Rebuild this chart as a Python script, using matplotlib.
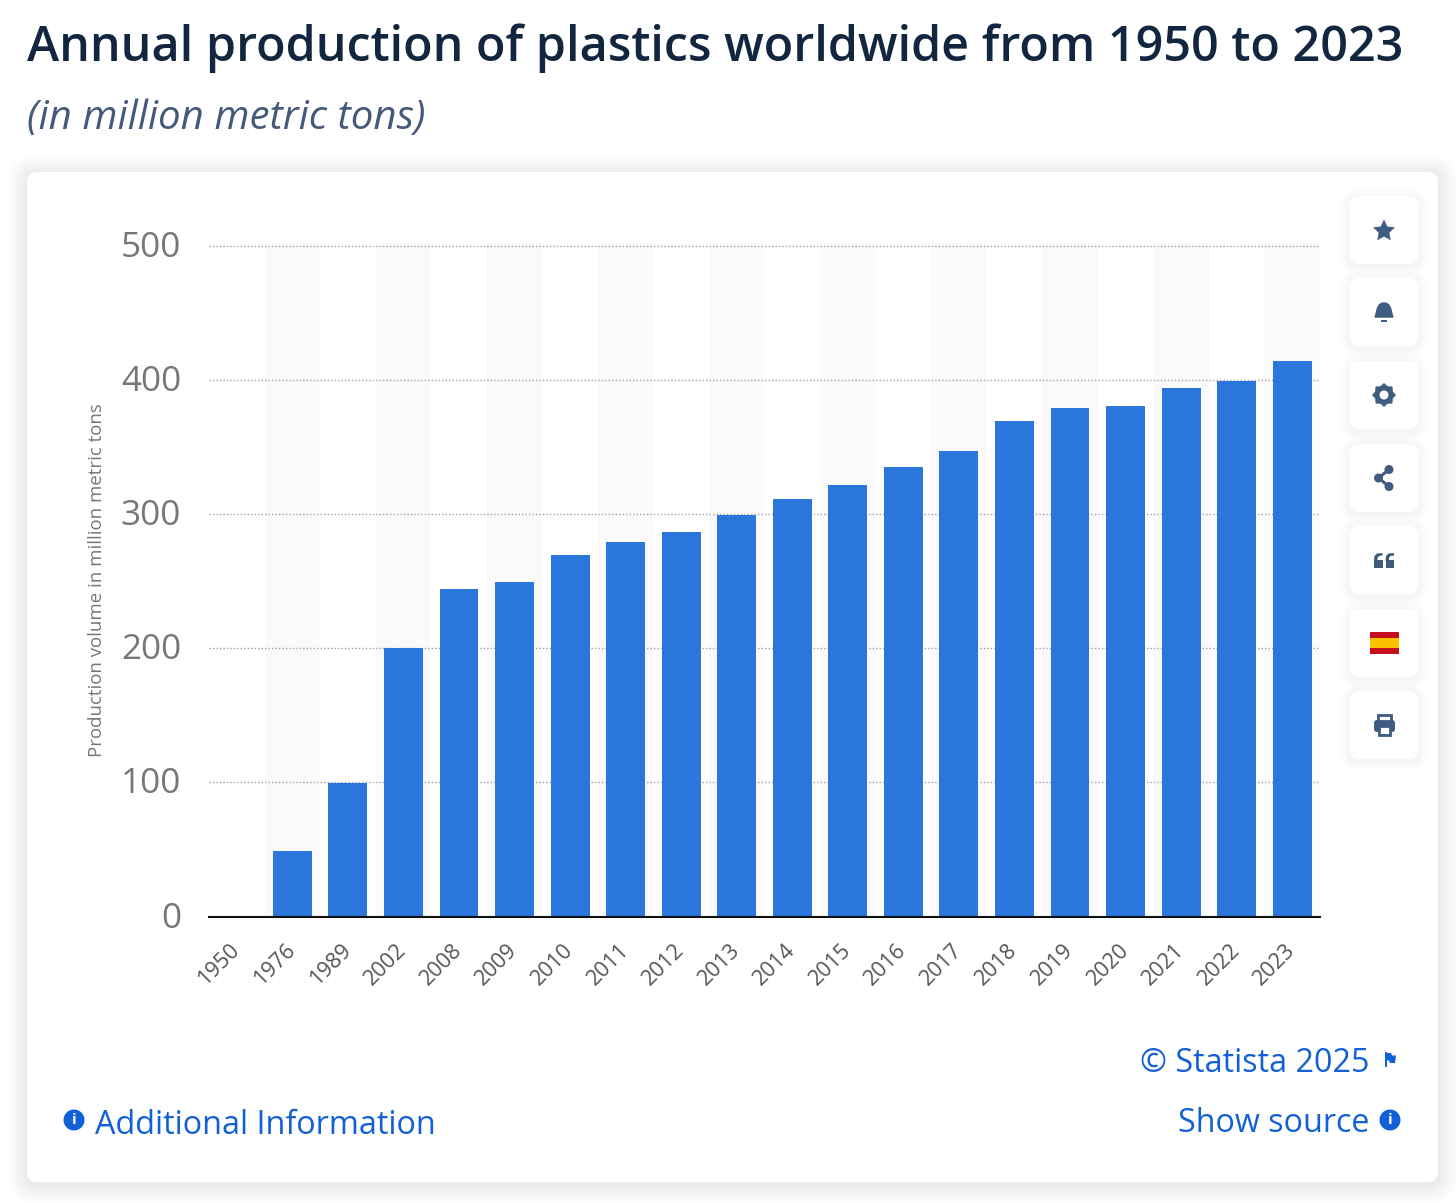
import math

import matplotlib
matplotlib.use("Agg")
import matplotlib.pyplot as plt
from matplotlib.patches import Circle, FancyBboxPatch, PathPatch, Polygon, Rectangle
from matplotlib.path import Path
from matplotlib.transforms import ScaledTranslation

years = ["1950", "1976", "1989", "2002", "2008", "2009", "2010", "2011", "2012", "2013",
         "2014", "2015", "2016", "2017", "2018", "2019", "2020", "2021", "2022", "2023"]
production = [0, 48.8, 99.5, 200, 244, 249.3, 269.5, 279, 286.6, 299,
              311, 321.7, 335, 347, 369.7, 379, 380.5, 394, 399.5, 414]
y_ticks = [0, 100, 200, 300, 400, 500]

W, H = 1456, 1203
FONT = "Open Sans"
BLUE = "#2a76dc"
LINK = "#1160d6"
ICON = "#3f5b80"

plt.rcParams["font.family"] = [FONT, "DejaVu Sans"]

fig = plt.figure(figsize=(W / 100, H / 100), dpi=100, facecolor="white")

# overlay in pixel coordinates for the card, buttons and text
bg = fig.add_axes([0, 0, 1, 1], zorder=0)
bg.set_xlim(0, W)
bg.set_ylim(H, 0)
bg.axis("off")


def soft_box(x, y, w, h, r, spread=10, alpha=0.012):
    for i in range(spread, 0, -1):
        bg.add_patch(FancyBboxPatch((x - i, y - i + 2), w + 2 * i, h + 2 * i,
                                    boxstyle=f"round,pad=0,rounding_size={r + i}",
                                    fc="#3a4a6a", ec="none", alpha=alpha))
    bg.add_patch(FancyBboxPatch((x, y), w, h, boxstyle=f"round,pad=0,rounding_size={r}",
                                fc="white", ec="none"))


soft_box(27, 172, 1411, 1010, 10, spread=20, alpha=0.004)

bg.text(27, 48, "Annual production of plastics worldwide from 1950 to 2023", fontsize=34.95,
        fontweight=600, color="#12263f", va="center", ha="left")
bg.text(27, 119, "(in million metric tons)", fontsize=29.0, style="italic",
        color="#45597a", va="center", ha="left")

# chart, the 0-400 gridlines give 1.3415 px per unit
ax = fig.add_axes([209 / W, 1 - 916.5 / H, 1111 / W, (916.5 - 243.3) / H], zorder=1)
ax.patch.set_alpha(0)
positions = list(range(len(years)))
for pos in positions[1::2]:
    ax.axvspan(pos - 0.5, pos + 0.5, color="#fafafa", lw=0, zorder=0)
ax.bar(positions, production, width=0.7, color=BLUE, zorder=3)
ax.set_xlim(-0.5, len(years) - 0.5)
ax.set_ylim(0, 501.8)
ax.set_yticks(y_ticks)
ax.set_xticks(positions)
ax.set_xticklabels(years, rotation=45, ha="right", va="top", rotation_mode="anchor",
                   fontsize=15.6, color="#555555")
ax.tick_params(axis="x", length=0, pad=16.5)
ax.tick_params(axis="y", length=0, pad=20, labelsize=25.3, labelcolor="#777777")
ax.grid(axis="y", color="#a0a0a0", lw=1, ls=(0, (1, 1.5)), zorder=1)
for name in ["top", "right", "left"]:
    ax.spines[name].set_visible(False)
ax.spines["bottom"].set_color("#111111")
ax.spines["bottom"].set_linewidth(1.5)
ax.spines["bottom"].set_zorder(5)
for label in ax.get_yticklabels():
    label.set_verticalalignment("center")
    label.set_transform(label.get_transform() + ScaledTranslation(0, -2 / 100, fig.dpi_scale_trans))
for label in ax.get_xticklabels():
    label.set_transform(label.get_transform() + ScaledTranslation(-7.5 / 100, 0, fig.dpi_scale_trans))

bg.text(97, 580, "Production volume in million metric tons", rotation=90, fontsize=13.4,
        color="#777777", ha="center", va="center")

# side buttons
button_tops = [196, 278, 361, 444, 526, 609, 691]
for top in button_tops:
    soft_box(1350, top, 68, 68, 9, spread=10, alpha=0.005)
cx = 1384

# star
star = []
for k in range(10):
    radius = 11.5 if k % 2 == 0 else 5.6
    angle = -math.pi / 2 + k * math.pi / 5
    star.append((cx + radius * math.cos(angle), 231 + radius * math.sin(angle)))
bg.add_patch(Polygon(star, fc=ICON, ec="none", zorder=5))

# bell
bell = Path([(cx - 9, 317), (cx - 7, 314), (cx - 8, 303), (cx, 303), (cx + 8, 303), (cx + 7, 314),
             (cx + 9, 317), (cx - 9, 317)],
            [Path.MOVETO, Path.CURVE4, Path.CURVE4, Path.CURVE4, Path.CURVE4, Path.CURVE4,
             Path.CURVE4, Path.CLOSEPOLY])
bg.add_patch(PathPatch(bell, fc=ICON, ec=ICON, lw=1, zorder=5))
bg.add_patch(Rectangle((cx - 3, 320), 6, 1.8, fc=ICON, ec="none", zorder=5))

# gear
gear = []
for k in range(16):
    radius = 11.5 if k % 2 == 0 else 9
    angle = k * math.pi / 8
    gear.append((cx + radius * math.cos(angle), 395 + radius * math.sin(angle)))
bg.add_patch(Polygon(gear, fc=ICON, ec=ICON, lw=0.5, zorder=5))
bg.add_patch(Circle((cx, 395), 4.5, fc="white", ec="none", zorder=6))

# share
nodes = [(cx + 5, 469.5), (cx - 5.5, 478), (cx + 5, 486.5)]
bg.plot([n[0] for n in nodes], [n[1] for n in nodes], color=ICON, lw=2.2, zorder=5)
for node in nodes:
    bg.add_patch(Circle(node, 4.5, fc=ICON, ec="none", zorder=6))

# quotes
for x in (cx - 10, cx + 1.5):
    bg.add_patch(Rectangle((x, 560), 8.5, 8, fc=ICON, ec="none", zorder=5))
    bg.add_patch(Polygon([(x, 561), (x + 0.5, 556), (x + 3, 553.5), (x + 8.5, 553),
                          (x + 8.5, 555.5), (x + 5, 556), (x + 3.5, 558), (x + 3.5, 561)],
                         fc=ICON, ec="none", zorder=5))

# flag
bg.add_patch(Rectangle((1370, 632), 28.5, 21.5, fc="#c4101e", ec="none", zorder=5))
bg.add_patch(Rectangle((1370, 637.5), 28.5, 10.5, fc="#fbc200", ec="none", zorder=6))

# printer
bg.add_patch(FancyBboxPatch((1374, 720), 21, 12, boxstyle="round,pad=0,rounding_size=3",
                            fc=ICON, ec="none", zorder=5))
bg.add_patch(Rectangle((1378, 715), 13, 6, fc="white", ec=ICON, lw=2, zorder=6))
bg.add_patch(Rectangle((1379, 726), 11, 9, fc="white", ec=ICON, lw=2, zorder=6))


def info_icon(x, y):
    bg.add_patch(Circle((x, y), 10.5, fc=LINK, ec="none", zorder=5))
    bg.text(x, y + 0.5, "i", color="white", fontsize=11, fontweight="bold", ha="center",
            va="center", zorder=6)


# footer links
bg.text(95, 1125, "Additional Information", fontsize=23.3, color=LINK, ha="left", va="center")
info_icon(74, 1120)
bg.text(1369, 1063, "© Statista 2025", fontsize=23.2, color=LINK, ha="right", va="center")
bg.text(1369, 1124, "Show source", fontsize=23.2, color=LINK, ha="right", va="center")
info_icon(1390, 1120)
bg.add_patch(Rectangle((1385, 1052), 1.8, 15, fc=LINK, ec="none", zorder=5))
bg.add_patch(Polygon([(1386, 1053), (1391, 1053), (1392, 1055.5), (1396, 1055.5), (1395, 1063),
                      (1390, 1063), (1389, 1060.5), (1386, 1060.5)], fc=LINK, ec="none", zorder=5))

fig.savefig("out.png", dpi=100)
plt.close(fig)
